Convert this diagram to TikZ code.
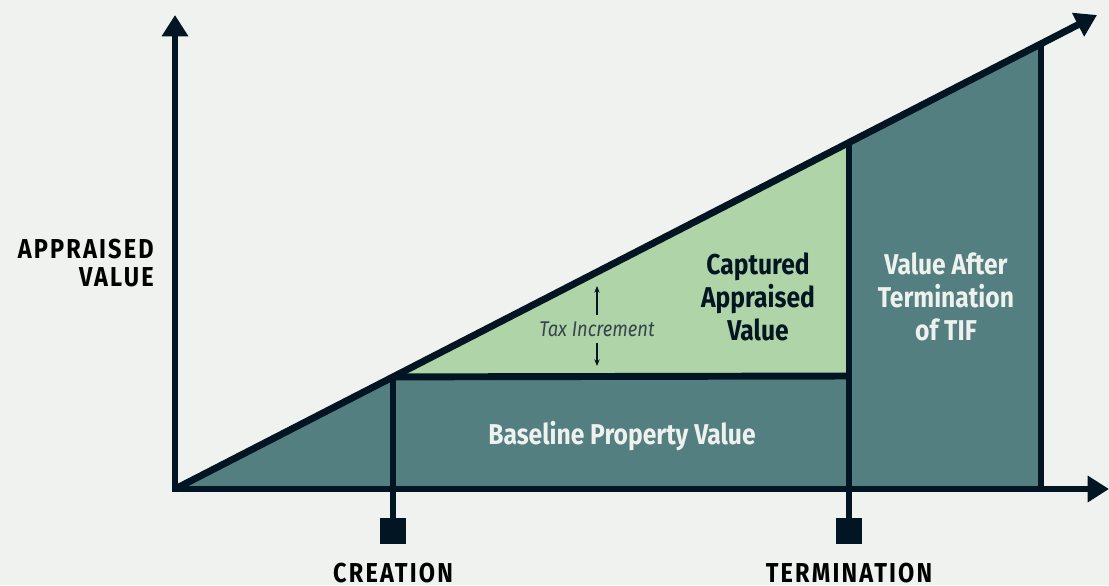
\documentclass[tikz,border=0pt]{standalone}
\usepackage{fontspec}
\setmainfont{Fira Sans}[FakeStretch=0.86]
\newfontfamily\trackfont{Fira Sans}[FakeStretch=0.86,LetterSpace=8]
\usetikzlibrary{arrows.meta}
\definecolor{navy}{HTML}{021522}
\definecolor{tifteal}{HTML}{547F80}
\definecolor{tifgreen}{HTML}{AED4A8}
\definecolor{paper}{HTML}{F0F2EF}
\definecolor{offwhite}{HTML}{EEF1EE}

\tikzset{
  axis/.style={line width=5.2pt,draw=navy,line join=miter},
  bigtip/.tip={Triangle[length=16pt,width=19pt]},
  marker/.style={fill=navy,minimum size=19pt,inner sep=0pt},
  inlabel/.style={font=\bfseries\fontsize{21.5}{24.5}\selectfont,align=center,inner sep=0pt},
  axlabel/.style={font=\trackfont\bfseries\fontsize{20.5}{20.5}\selectfont,inner sep=0pt},
  incr/.style={-{Stealth[length=5pt,width=4pt]},line width=0.8pt,draw=navy}
}

\begin{document}
\begin{tikzpicture}[x=0.75pt,y=-0.75pt]
  \fill[paper] (0,0) rectangle (1109,585);
  \useasboundingbox (0,0) rectangle (1109,585);
  % corners of the value line
  \coordinate (O) at (175,489);
  \coordinate (ytip) at (175,15);
  \coordinate (xtip) at (1109,489);
  \coordinate (dtip) at (1097,15);
  \coordinate (crea) at (393,376.9);
  \coordinate (term) at (849,142.5);
  \coordinate (endv) at (1041,43.8);
  % areas
  \fill[tifteal] (O) -- (endv) -- (1041,489) -- cycle;
  \fill[tifgreen] (crea) -- (term) -- (849,376) -- cycle;
  % markers
  \node[marker] (creamark) at (393,531) {};
  \node[marker] (termmark) at (849,531) {};
  % lines
  \draw[axis] (crea) -- (creamark);
  \draw[axis] (term) -- (termmark);
  \draw[axis] (crea) -- (849,376);
  \draw[axis] (endv) -- (1041,489);
  \draw[axis,bigtip-bigtip] (ytip) -- (O) -- (xtip);
  \draw[axis,-bigtip] (O) -- (dtip);
  % labels
  \node[axlabel,align=right,anchor=east] (yl) at (154,263) {APPRAISED\\VALUE};
  \node[axlabel,anchor=base] (crl) at (393,582) {CREATION};
  \node[axlabel,anchor=base] (tml) at (849,582) {TERMINATION};
  \node[inlabel,text=offwhite,anchor=base] (base) at (622,444) {Baseline Property Value};
  \node[inlabel,text=navy] (capt) at (758,297) {Captured\\Appraised\\Value};
  \node[inlabel,text=offwhite] (after) at (946,297) {Value After\\Termination\\of TIF};
  \node[font=\itshape\fontsize{16}{16}\selectfont,text=navy!80,inner sep=0pt,outer sep=5pt,anchor=base] (tax) at (597,336) {Tax Increment};
  \coordinate (taxtop) at (597,286);
  \coordinate (taxbot) at (597,366);
  \draw[incr] (tax.north) -- (taxtop);
  \draw[incr] (tax.south) -- (taxbot);
\end{tikzpicture}
\end{document}
